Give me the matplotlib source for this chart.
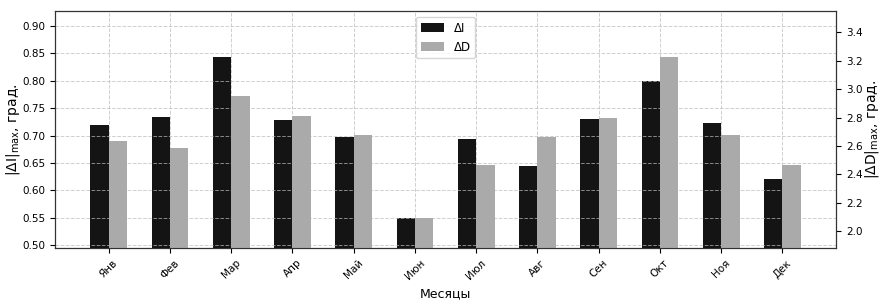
import numpy as np
import matplotlib.pyplot as plt

months = ['Янв', 'Фев', 'Мар', 'Апр', 'Май', 'Июн',
          'Июл', 'Авг', 'Сен', 'Окт', 'Ноя', 'Дек']
## max |dI| per month, degrees
dI_max = [0.719, 0.733, 0.843, 0.729, 0.697, 0.550,
          0.694, 0.644, 0.730, 0.799, 0.723, 0.621]
## max |dD| per month, degrees
dD_max = [2.635, 2.586, 2.950, 2.812, 2.674, 2.091,
          2.469, 2.660, 2.796, 3.227, 2.674, 2.464]

x = np.arange(len(months))
w = 0.3

fig, ax1 = plt.subplots(figsize=(8.85, 3.05), dpi=100)
ax2 = ax1.twinx()

b1 = ax1.bar(x - w/2, dI_max, w, color='#141414', label='ΔI')
b2 = ax2.bar(x + w/2, dD_max, w, color='#aaaaaa', label='ΔD')

ax1.set_ylim(min(dI_max)*0.9, max(dI_max)*1.1)
ax2.set_ylim(min(dD_max)*0.9, max(dD_max)*1.1)

ax1.set_xticks(x)
ax1.set_xticklabels(months, rotation=45, fontsize=7.5)
ax1.tick_params(axis='y', labelsize=7.5)
ax2.tick_params(axis='y', labelsize=7.5)

ax1.set_xlabel('Месяцы', fontsize=9)
ax1.set_ylabel('|ΔI|$_{\\mathrm{max}}$, град.', fontsize=10, labelpad=0)
ax2.set_ylabel('|ΔD|$_{\\mathrm{max}}$, град.', fontsize=10, labelpad=0)

for sp in ax2.spines.values():
    sp.set_color('#333333')

ax1.grid(True, linestyle='--', color='#bbbbbb', linewidth=0.7, alpha=0.7)

ax1.legend([b1, b2], ['ΔI', 'ΔD'], loc='upper center', fontsize=8.5)

fig.subplots_adjust(left=0.062, right=0.945, top=0.964, bottom=0.187)
fig.savefig('out.png')
